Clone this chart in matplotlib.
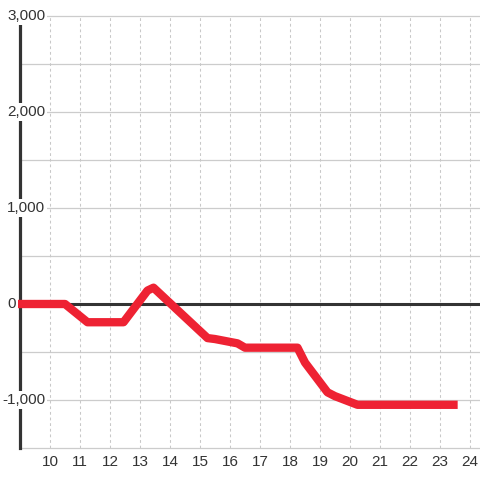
import numpy as np
import matplotlib
matplotlib.use("Agg")
import matplotlib.pyplot as plt

plt.rcParams['font.family'] = ['Liberation Sans', 'DejaVu Sans']

# series (hour of day -> value)
hours = [9.0, 10.5, 11.25, 12.45, 13.25, 13.45, 14.1, 15.25, 15.5, 16.25, 16.5,
         18.25, 18.5, 19.25, 19.5, 20.25, 23.45]
values = [0, 0, -190, -190, 140, 170, -20, -355, -365, -410, -455,
          -455, -610, -920, -960, -1050, -1050]

x_ticks = list(range(10, 25))
y_grid = [-1500, -1000, -500, 0, 500, 1000, 1500, 2000, 2500, 3000]
y_labels = [-1000, 0, 1000, 2000, 3000]

W = 480.0
fig = plt.figure(figsize=(4.8, 4.8), dpi=100)
ax = fig.add_axes([20 / W, 32 / W, 460 / W, 432 / W])
ax.set_xlim(9, 24 + 1 / 3)
ax.set_ylim(-1500, 3000)

for s in ['top', 'right', 'bottom']:
    ax.spines[s].set_visible(False)
ax.spines['left'].set_color('#333333')
ax.spines['left'].set_linewidth(2.3)
ax.spines['left'].set_zorder(3)

# grid
for v in y_grid:
    ax.axhline(v, color='#cccccc', lw=0.9, zorder=1, clip_on=False)
for t in x_ticks:
    ax.axvline(t, color='#c8c8c8', lw=0.75, ls=(0, (2.7, 2.7)), zorder=1)
ax.axhline(0, color='#333333', lw=2.2, zorder=2)

ax.plot(hours, values, color='#ee2233', lw=6, solid_capstyle='projecting',
        solid_joinstyle='round', zorder=4, clip_on=False)

ax.set_xticks(x_ticks)
ax.set_xticklabels([str(t) for t in x_ticks])
ax.tick_params(axis='x', length=0, pad=5, labelsize=11, labelcolor='#333333')
ax.set_yticks([])

# y labels sit over the axis line, with a white box behind them
for v in y_labels:
    xpx = 7 if v >= 0 else 2
    yfig = (32 + 432 * (v + 1500) / 4500) / W
    fig.text(xpx / W, yfig, f"{v:,}", ha='left', va='center', fontsize=11,
             color='#333333', zorder=5,
             bbox=dict(facecolor='white', edgecolor='none', pad=1.5))

fig.savefig('out.png', dpi=100, facecolor='white')
